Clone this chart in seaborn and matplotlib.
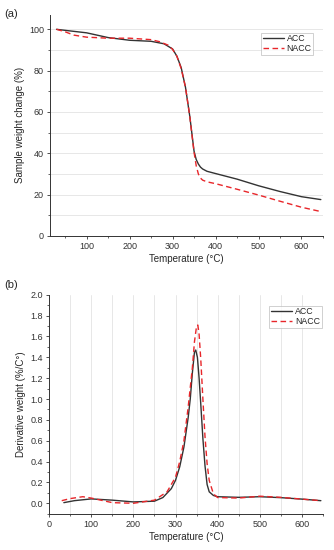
import matplotlib
matplotlib.use("Agg")
import matplotlib.pyplot as plt
import seaborn as sns
import pandas as pd
from matplotlib.ticker import MultipleLocator, FormatStrFormatter

sns.set_style("ticks")
plt.rcParams["font.family"] = ["Liberation Sans", "DejaVu Sans"]

# TGA curves (panel a)
tga_temp_acc = [30, 50, 100, 150, 200, 250, 280, 300, 310, 320, 330, 340, 345, 350, 355, 360,
                365, 370, 380, 400, 450, 500, 550, 600, 645]
tga_acc = [100, 99.5, 98.3, 96.0, 94.7, 94.2, 93.0, 90.5, 87.0, 81.5, 72.0, 58.0, 49.5, 41.0,
           37.0, 34.8, 33.3, 32.4, 31.3, 30.2, 27.5, 24.3, 21.5, 19.0, 17.6]
tga_temp_nacc = [30, 50, 70, 100, 150, 200, 250, 270, 290, 300, 310, 320, 330, 340, 345, 350,
                 355, 360, 365, 370, 380, 400, 450, 500, 550, 600, 645]
tga_nacc = [100, 98.8, 97.2, 96.2, 95.7, 95.7, 95.0, 94.0, 92.3, 90.3, 87.0, 81.0, 72.0, 58.0,
            49.0, 40.5, 34.0, 30.0, 28.0, 27.0, 26.2, 25.3, 22.6, 19.8, 16.8, 13.9, 11.8]

# DTG curves (panel b)
dtg_temp_acc = [35, 60, 100, 150, 200, 250, 270, 290, 300, 310, 320, 330, 335, 340, 345, 348,
                352, 356, 360, 365, 370, 375, 380, 390, 400, 450, 500, 550, 600, 645]
dtg_acc = [0.006, 0.025, 0.042, 0.030, 0.013, 0.020, 0.055, 0.14, 0.22, 0.35, 0.54, 0.82, 1.0,
           1.25, 1.45, 1.47, 1.40, 1.20, 0.95, 0.62, 0.36, 0.18, 0.11, 0.075, 0.063, 0.057,
           0.063, 0.054, 0.040, 0.025]
dtg_temp_nacc = [30, 50, 80, 100, 150, 200, 250, 280, 300, 310, 320, 330, 340, 345, 350, 353,
                 356, 360, 365, 370, 375, 380, 390, 400, 450, 500, 550, 600, 645]
dtg_nacc = [0.025, 0.045, 0.063, 0.050, 0.006, 0.0, 0.03, 0.11, 0.25, 0.40, 0.60, 0.92, 1.30,
            1.55, 1.70, 1.71, 1.62, 1.38, 1.00, 0.64, 0.38, 0.22, 0.09, 0.055, 0.050, 0.068,
            0.057, 0.040, 0.025]

acc_df_a = pd.DataFrame({"T": tga_temp_acc, "w": tga_acc})
nacc_df_a = pd.DataFrame({"T": tga_temp_nacc, "w": tga_nacc})
acc_df_b = pd.DataFrame({"T": dtg_temp_acc, "w": dtg_acc})
nacc_df_b = pd.DataFrame({"T": dtg_temp_nacc, "w": dtg_nacc})

fig = plt.figure(figsize=(3.34, 5.5), dpi=100)
ax1 = fig.add_axes([0.15, 0.571, 0.817, 0.402])
ax2 = fig.add_axes([0.147, 0.066, 0.82, 0.398])

grid_kw = dict(color="#e3e3e3", linewidth=0.6)

panels = [(ax1, acc_df_a, nacc_df_a, (0.965, 0.92)), (ax2, acc_df_b, nacc_df_b, (0.995, 0.95))]
for ax, acc, nacc, anchor in panels:
    sns.lineplot(data=acc, x="T", y="w", ax=ax, color="#333333", linewidth=1.0, label="ACC")
    sns.lineplot(data=nacc, x="T", y="w", ax=ax, color="#e8262a", linewidth=1.0,
                 linestyle=(0, (4, 2.5)), label="NACC")
    sns.despine(ax=ax)
    for s in ["left", "bottom"]:
        ax.spines[s].set_linewidth(0.7)
        ax.spines[s].set_color("#333333")
    ax.tick_params(labelsize=6.5, length=2.5, width=0.6, pad=2, colors="#333333")
    ax.tick_params(which="minor", length=1.5, width=0.5)
    ax.set_xlabel("Temperature (°C)", fontsize=7, labelpad=2)
    leg = ax.legend(loc="upper right", bbox_to_anchor=anchor, fontsize=6.3, frameon=True,
                    fancybox=False, borderpad=0.2, handlelength=2.4, handletextpad=0.3,
                    labelspacing=0.1, borderaxespad=0)
    leg.get_frame().set_edgecolor("#bbbbbb")
    leg.get_frame().set_linewidth(0.6)

# panel a
ax1.set_xlim(15, 650)
ax1.set_ylim(0, 107)
ax1.xaxis.set_major_locator(MultipleLocator(100))
ax1.xaxis.set_minor_locator(MultipleLocator(50))
ax1.yaxis.set_minor_locator(MultipleLocator(10))
ax1.set_yticks([0, 20, 40, 60, 80, 100])
ax1.grid(axis="y", which="both", **grid_kw)
ax1.set_axisbelow(True)
ax1.set_ylabel("Sample weight change (%)", fontsize=7, labelpad=3)

# panel b
ax2.set_xlim(0, 650)
ax2.set_ylim(-0.1, 2.0)
ax2.xaxis.set_major_locator(MultipleLocator(100))
ax2.xaxis.set_minor_locator(MultipleLocator(50))
ax2.yaxis.set_major_locator(MultipleLocator(0.2))
ax2.yaxis.set_minor_locator(MultipleLocator(0.1))
ax2.yaxis.set_major_formatter(FormatStrFormatter("%.1f"))
ax2.grid(axis="x", which="both", **grid_kw)
ax2.set_axisbelow(True)
ax2.set_ylabel("Derivative weight (%/C°)", fontsize=7, labelpad=3)

fig.text(0.012, 0.975, "(a)", fontsize=8, va="center", ha="left")
fig.text(0.012, 0.482, "(b)", fontsize=8, va="center", ha="left")

fig.savefig("out.png", dpi=100)
